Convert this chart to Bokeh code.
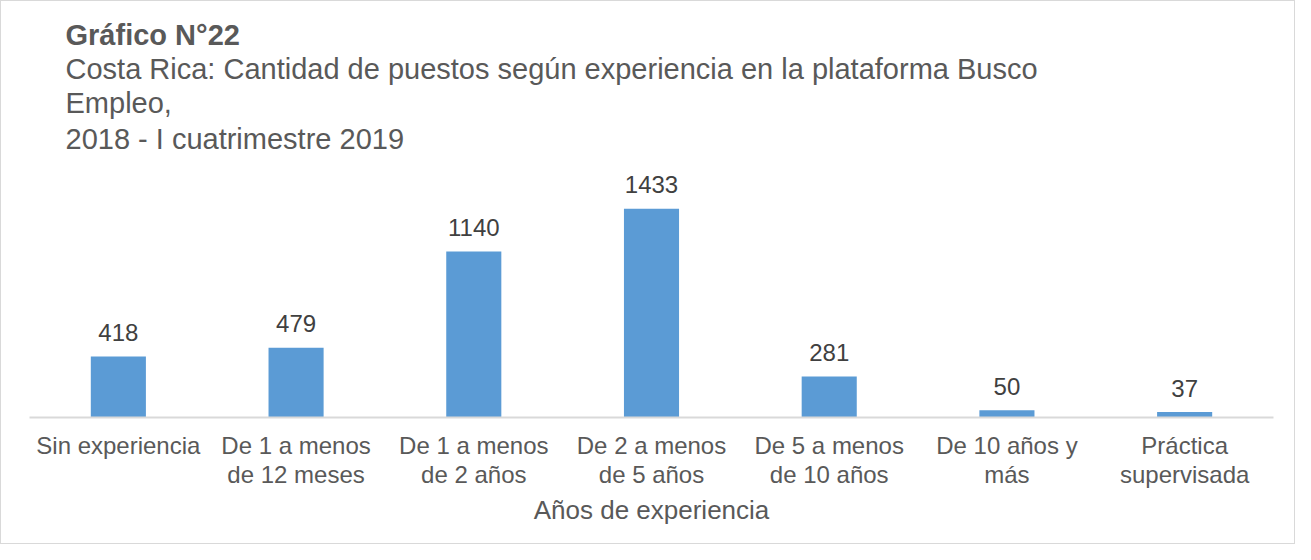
from bokeh.plotting import figure
from bokeh.models import ColumnDataSource, Title, FactorRange, Range1d
from bokeh.core.properties import value
from bokeh.embed import file_html
from bokeh.resources import INLINE

# ---- data ----
categories = [
    "Sin experiencia",
    "De 1 a menos\nde 12 meses",
    "De 1 a menos\nde 2 años",
    "De 2 a menos\nde 5 años",
    "De 5 a menos\nde 10 años",
    "De 10 años y\nmás",
    "Práctica\nsupervisada",
]
values = [418, 479, 1140, 1433, 281, 50, 37]
value_labels = [str(v) for v in values]

title_main = "Gráfico N°22"
title_lines = [
    "Costa Rica: Cantidad de puestos según experiencia en la plataforma Busco",
    "Empleo,",
    "2018 - I cuatrimestre 2019",
]
x_title = "Años de experiencia"

FONT = "Liberation Sans"
TXT = "#595959"
LBL = "#404040"
BAR = "#5B9BD5"

src = ColumnDataSource(dict(cat=categories, val=values, lab=value_labels))

p = figure(
    width=1295, height=544,
    x_range=FactorRange(*categories),
    y_range=Range1d(0, 1785),
    output_backend="svg", toolbar_location=None,
    min_border_left=28, min_border_right=23, min_border_bottom=128, min_border_top=156,
)
p.outline_line_color = None
p.background_fill_color = "white"
p.border_fill_color = "white"

p.vbar(x="cat", top="val", width=0.31, source=src, color=BAR, line_color=None)
p.text(x="cat", y="val", text="lab", source=src, text_align="center",
       text_baseline="middle", y_offset=-24, text_font=value(FONT),
       text_font_size="24px", text_color=LBL)

p.yaxis.visible = False
p.grid.visible = False
ax = p.xaxis[0]
ax.axis_line_color = "#D9D9D9"
ax.axis_line_width = 2
ax.major_tick_line_color = None
ax.minor_tick_line_color = None
ax.major_label_text_font = FONT
ax.major_label_text_font_size = "24px"
ax.major_label_text_color = TXT
ax.major_label_text_line_height = 1.1
ax.major_label_standoff = 8
ax.axis_label = x_title
ax.axis_label_text_font = FONT
ax.axis_label_text_font_size = "26px"
ax.axis_label_text_font_style = "normal"
ax.axis_label_text_color = TXT
ax.axis_label_standoff = 4

# titles: first added is closest to plot
for i, t in enumerate(reversed(title_lines)):
    p.add_layout(Title(text=t, align="left", offset=36, text_font=FONT,
                       text_font_size="29px", text_font_style="normal",
                       text_color=TXT, standoff=5 if i == 0 else 0), "above")
p.add_layout(Title(text=title_main, align="left", offset=36, text_font=FONT,
                   text_font_size="29px", text_font_style="bold",
                   text_color=TXT, standoff=0), "above")

p.styles = {"border": "1px solid #D9D9D9"}

open("out.html", "w").write(file_html(p, INLINE))
